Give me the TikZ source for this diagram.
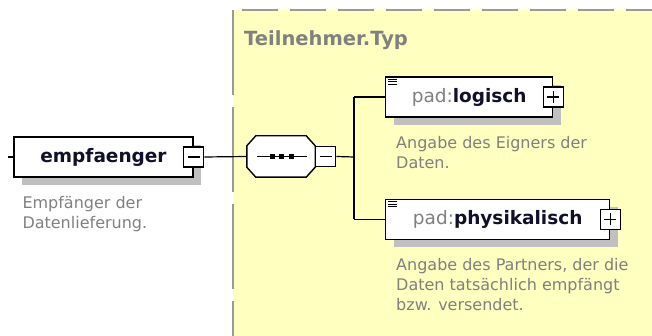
\documentclass[tikz,border=0pt]{standalone}
\usepackage{fontspec}
\setmainfont{DejaVu Sans}
\usetikzlibrary{positioning,shadows}

\definecolor{typfill}{HTML}{FFFFC0}
\definecolor{typline}{HTML}{999999}
\definecolor{doctext}{HTML}{808080}
\definecolor{nametext}{HTML}{10102A}
\definecolor{shadowgray}{HTML}{C0C0C0}

\tikzset{
  boxshadow/.style={drop shadow={shadow xshift=8pt,shadow yshift=-8pt,fill=shadowgray,opacity=1}},
  elem/.style={draw=black, fill=white, line width=1.4pt, inner sep=0pt, minimum height=40,
    font=\fontsize{18.5}{22}\selectfont\bfseries, text=nametext, boxshadow},
  btn/.style={draw=black, fill=white, line width=1.2pt, minimum size=20, inner sep=0pt},
  minusbtn/.style={btn, path picture={
    \draw[line width=1.2pt] ([xshift=-6pt]path picture bounding box.center) -- ([xshift=6pt]path picture bounding box.center);}},
  plusbtn/.style={btn, path picture={
    \draw[line width=1.2pt] ([xshift=-6pt]path picture bounding box.center) -- ([xshift=6pt]path picture bounding box.center);
    \draw[line width=1.2pt] ([yshift=-6pt]path picture bounding box.center) -- ([yshift=6pt]path picture bounding box.center);}},
  doc/.style={anchor=north west, inner sep=0pt, align=left, text=doctext, font=\fontsize{16}{20}\selectfont},
  wire/.style={draw=black, line width=1.2pt}
}
% octagon round a node, (9,10) chamfer
\newcommand\seqoutline[1]{([shift={(9,0)}]#1.north west) -- ([shift={(-9,0)}]#1.north east)
  -- ([shift={(0,10)}]#1.north east) -- ([shift={(0,-10)}]#1.south east)
  -- ([shift={(-9,0)}]#1.south east) -- ([shift={(9,0)}]#1.south west)
  -- ([shift={(0,-10)}]#1.south west) -- ([shift={(0,10)}]#1.north west) -- cycle}

\begin{document}
\begin{tikzpicture}[x=1pt,y=-1pt]
\useasboundingbox (0,0) rectangle (652,336);
% complex type area
\fill [typfill] (233,10) rectangle (652,336);
\draw [typline, line width=2pt, dash pattern=on 36pt off 12pt, dash phase=39pt] (233,10) -- (652,10);
\draw [typline, line width=2pt, dash pattern=on 85pt off 12pt] (233,10) -- (233,336);
\node [anchor=west, inner sep=0pt, text=doctext, font=\fontsize{19.5}{22}\selectfont\bfseries] (typname) at (244,40) {Teilnehmer.Typ};

% root element
\node [elem, minimum width=179] (empf) at (103.5,157) {empfaenger};
\node [minusbtn] (empfbtn) at (empf.east) {};
\coordinate (empfin) at (8,157);
\node [doc] (empfdoc) at ([shift={(9,18)}]empf.south west) {Empfänger der\\Datenlieferung.};

% sequence
\node [minimum width=68, minimum height=41, inner sep=0pt] (seq) at (281,156.5) {};
\fill [shadowgray, shift={(8,8)}] \seqoutline{seq};
\draw [fill=white, line width=1.4pt] \seqoutline{seq};
\draw [line width=1.2pt] ([xshift=-24]seq.center) -- ([xshift=26]seq.center);
\foreach \dx in {-9,0,10}
  \fill ([shift={(\dx-2.5,-2.5)}]seq.center) rectangle ++(5,5);
\node [minusbtn, anchor=west] (seqbtn) at (seq.east) {};
\coordinate (bus) at (354,157);

% child elements
\node [elem, anchor=west, minimum width=167] (logisch) at (385,97) {\textcolor{doctext}{\mdseries pad:}logisch\hspace{4pt}};
\node [plusbtn] (logischbtn) at (logisch.east) {};
\node [doc] (logischdoc) at ([shift={(11,18)}]logisch.south west) {Angabe des Eigners der\\Daten.};

\node [elem, anchor=west, minimum width=224] (phys) at (385,219.5) {\textcolor{doctext}{\mdseries pad:}physikalisch\hspace{4pt}};
\node [plusbtn] (physbtn) at (phys.east) {};
\node [doc] (physdoc) at ([shift={(11,18)}]phys.south west) {Angabe des Partners, der die\\Daten tatsächlich empfängt\\bzw. versendet.};

\foreach \n in {logisch,phys}
  \foreach \d in {0,2.5,5}
    \draw [line width=1pt] ([shift={(3,3+\d)}]\n.north west) -- ++(9,0);

% connectors
\draw [wire] (empfin) -- (empf.west);
\draw [wire] (empfbtn.east) -- (seq.west);
\draw [wire] (seqbtn.east) -- (bus);
\draw [wire] (bus |- logisch.west) -- (bus |- phys.west);
\draw [wire] (bus |- logisch.west) -- (logisch.west);
\draw [wire] (bus |- phys.west) -- (phys.west);
\end{tikzpicture}
\end{document}
